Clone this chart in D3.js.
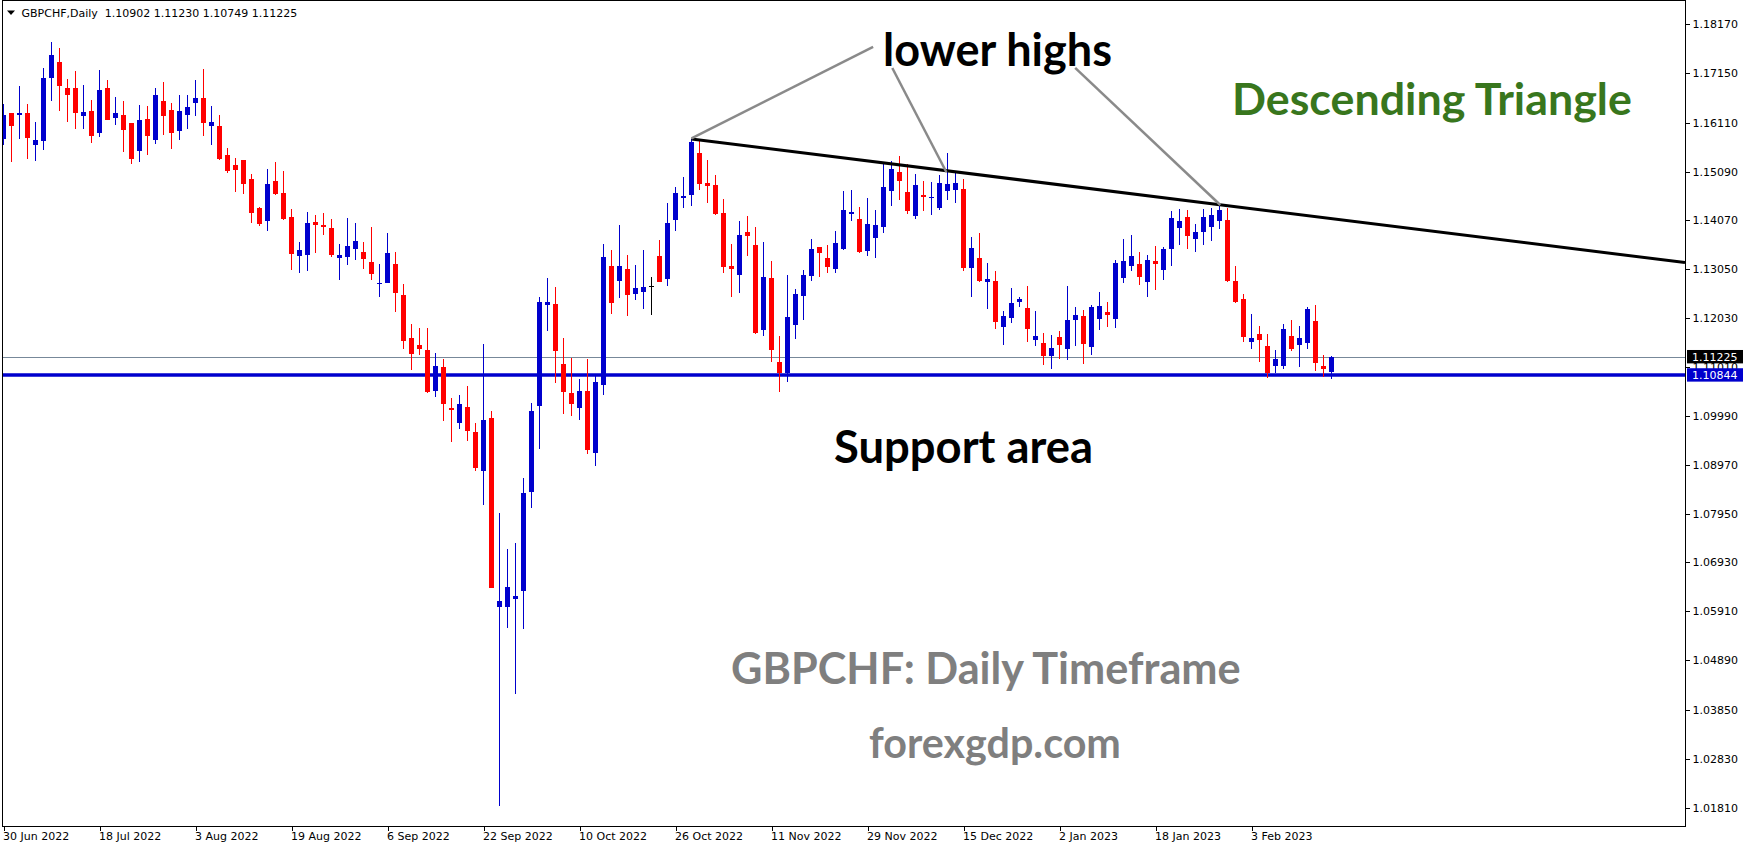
<!DOCTYPE html>
<html><head><meta charset="utf-8">
<script src="https://cdn.jsdelivr.net/npm/d3@7"></script>
<style>html,body{margin:0;padding:0;background:#fff;overflow:hidden}</style>
</head><body>
<svg id="c" width="1749" height="850"></svg>
<script>
// ---------------- DATA ----------------
const symbolLabel = "GBPCHF,Daily";
const open = [1.15774,1.16311,1.16276,1.16311,1.15650,1.15733,1.17049,1.17376,1.16834,1.16834,
1.16255,1.16353,1.15901,1.16834,1.16214,1.16270,1.16103,1.15524,1.16186,1.15754,
1.16562,1.16374,1.15942,1.16276,1.16527,1.16625,1.16047,1.16041,1.15435,1.15226,
1.15331,1.14934,1.14329,1.14063,1.14892,1.14642,1.14141,1.13333,1.13354,1.14036,
1.13974,1.13911,1.13291,1.13312,1.13479,1.13410,1.13201,1.12748,1.12769,1.13159,
1.12513,1.11615,1.11469,1.11364,1.10514,1.11009,1.10159,1.09847,1.10174,1.09652,
1.08844,1.09944,1.06005,1.06005,1.06172,1.06339,1.08406,1.10201,1.12310,1.12325,
1.11072,1.10466,1.10159,1.10514,1.09220,1.10639,1.13117,1.12811,1.13055,1.12540,
1.12581,1.12700,1.13326,1.12853,1.14084,1.14544,1.14606,1.15477,1.14851,1.14809,
1.14224,1.13117,1.12936,1.13828,1.13556,1.11788,1.12867,1.11113,1.10890,1.11892,
1.12498,1.12915,1.13515,1.13285,1.13061,1.13479,1.14197,1.14099,1.13437,1.13708,
1.13938,1.14690,1.15080,1.14663,1.14168,1.14600,1.14555,1.14335,1.14690,1.14711,
1.14725,1.13082,1.13285,1.12790,1.12804,1.11851,1.12038,1.12373,1.12241,1.11580,
1.11510,1.11245,1.11636,1.11391,1.11996,1.12074,1.11433,1.12017,1.12157,1.12017,
1.12873,1.13124,1.13159,1.12790,1.13222,1.13040,1.13479,1.13917,1.14141,1.13688,
1.13834,1.13938,1.14063,1.14084,1.12804,1.12429,1.11537,1.11698,1.11448,1.11037,
1.11037,1.11657,1.11475,1.11517,1.11969,1.11030,1.10902];
const high = [1.16500,1.16320,1.16876,1.16500,1.16124,1.17252,1.17794,1.17669,1.17022,1.17189,
1.16896,1.16583,1.17210,1.17001,1.16646,1.16562,1.16110,1.16479,1.16458,1.16834,
1.16959,1.16521,1.16688,1.16688,1.17001,1.17231,1.16458,1.16270,1.15581,1.15372,
1.15340,1.15038,1.14350,1.15149,1.15289,1.15101,1.14308,1.13619,1.14245,1.14182,
1.14224,1.14099,1.13577,1.14120,1.14016,1.13619,1.13932,1.13159,1.13807,1.13410,
1.12742,1.11907,1.11824,1.11824,1.11302,1.11176,1.10368,1.10425,1.10612,1.09840,
1.11489,1.10084,1.07961,1.07210,1.07335,1.08692,1.10257,1.12471,1.12867,1.12686,
1.11615,1.11197,1.10765,1.11182,1.10827,1.13577,1.13452,1.13974,1.13348,1.13138,
1.13452,1.12894,1.13667,1.14433,1.14767,1.14976,1.15769,1.15748,1.15331,1.15017,
1.14517,1.13577,1.14057,1.14162,1.13932,1.13619,1.13222,1.11657,1.12930,1.12638,
1.13034,1.13682,1.13520,1.13556,1.13849,1.14683,1.14704,1.14350,1.14537,1.14287,
1.15268,1.15310,1.15414,1.15247,1.15038,1.14892,1.14871,1.15017,1.15477,1.15059,
1.14934,1.13723,1.13807,1.13180,1.13013,1.12178,1.12658,1.12477,1.12700,1.12178,
1.11719,1.11678,1.11761,1.12700,1.12262,1.12199,1.12304,1.12575,1.12366,1.13243,
1.13682,1.13765,1.13410,1.13348,1.13535,1.13514,1.14266,1.14308,1.14287,1.13995,
1.14308,1.14329,1.14391,1.14335,1.13117,1.12533,1.12116,1.11865,1.11698,1.11364,
1.11907,1.11990,1.11865,1.12262,1.12304,1.11260,1.11230];
const low = [1.15650,1.15295,1.15774,1.15358,1.15316,1.15545,1.16568,1.16359,1.16131,1.15984,
1.15984,1.15692,1.15817,1.16160,1.16068,1.15503,1.15254,1.15295,1.15441,1.15671,
1.15859,1.15566,1.15754,1.15984,1.16255,1.15838,1.15650,1.15337,1.15066,1.14669,
1.14627,1.14022,1.13959,1.13855,1.14606,1.14084,1.13040,1.12978,1.13019,1.13396,
1.13771,1.13312,1.12831,1.13145,1.13249,1.13061,1.12831,1.12477,1.12760,1.12163,
1.11385,1.10952,1.11266,1.10473,1.10389,1.09888,1.09450,1.09721,1.09471,1.08844,
1.08135,1.06395,1.01838,1.05566,1.04189,1.05539,1.08072,1.09303,1.11767,1.10681,
1.10034,1.09993,1.09909,1.09193,1.08949,1.10431,1.12122,1.12456,1.12080,1.12414,
1.12226,1.12101,1.12785,1.12706,1.13855,1.14335,1.14377,1.14711,1.14439,1.14189,
1.12978,1.12477,1.12560,1.13333,1.11704,1.11663,1.11120,1.10493,1.10702,1.11600,
1.11996,1.12811,1.12894,1.12978,1.12978,1.13458,1.14063,1.13396,1.13333,1.13291,
1.13813,1.14377,1.14502,1.14210,1.14105,1.14272,1.14189,1.14293,1.14502,1.14439,
1.13019,1.12477,1.12790,1.12226,1.11809,1.11475,1.11933,1.12268,1.11537,1.11454,
1.11057,1.10974,1.11182,1.11161,1.11454,1.11078,1.11266,1.11788,1.11851,1.11830,
1.12769,1.13019,1.12727,1.12477,1.12623,1.12831,1.13124,1.13562,1.13479,1.13416,
1.13562,1.13647,1.13896,1.12777,1.12345,1.11537,1.11385,1.11120,1.10773,1.10878,
1.10974,1.11350,1.11016,1.11391,1.10932,1.10807,1.10749];
const close = [1.16270,1.16047,1.16311,1.15796,1.15748,1.17043,1.17523,1.16882,1.16694,1.16318,
1.16333,1.15838,1.16792,1.16172,1.16311,1.15963,1.15358,1.16166,1.15838,1.16688,
1.16255,1.15901,1.16353,1.16437,1.16625,1.16110,1.16124,1.15358,1.15107,1.15128,
1.14836,1.14231,1.14001,1.14830,1.14627,1.14105,1.13375,1.13452,1.14016,1.13980,
1.13938,1.13348,1.13348,1.13535,1.13640,1.13270,1.12957,1.12763,1.13389,1.12560,
1.11558,1.11287,1.11385,1.10493,1.11030,1.10243,1.10117,1.10236,1.09679,1.08907,
1.09903,1.06402,1.06124,1.06416,1.06228,1.08379,1.10090,1.12366,1.12366,1.11350,
1.10493,1.10243,1.10514,1.09283,1.10702,1.13312,1.12352,1.13117,1.12519,1.12665,
1.12686,1.12700,1.12790,1.14016,1.14642,1.14579,1.15706,1.14836,1.14795,1.14210,
1.13103,1.13061,1.13765,1.13750,1.11725,1.12888,1.11370,1.10890,1.12053,1.12533,
1.12930,1.13473,1.13395,1.13103,1.13598,1.14287,1.14245,1.13416,1.13995,1.13974,
1.14767,1.15143,1.14899,1.14272,1.14809,1.14565,1.14560,1.14851,1.14830,1.14851,
1.13082,1.13494,1.12811,1.12853,1.11955,1.12074,1.12345,1.12429,1.11809,1.11657,
1.11245,1.11406,1.11475,1.11990,1.12095,1.11496,1.12262,1.12283,1.12101,1.13180,
1.13222,1.13326,1.12894,1.13243,1.13166,1.13473,1.14120,1.14057,1.13750,1.13828,
1.14141,1.14182,1.14287,1.12798,1.12366,1.11642,1.11615,1.11580,1.10878,1.11176,
1.11803,1.11391,1.11615,1.12220,1.11099,1.10974,1.11225];
const dateTickBars = [0,12,24,36,48,60,72,84,96,108,120,132,144,156];
const dateTickLabels = ["30 Jun 2022","18 Jul 2022","3 Aug 2022","19 Aug 2022","6 Sep 2022","22 Sep 2022",
  "10 Oct 2022","26 Oct 2022","11 Nov 2022","29 Nov 2022","15 Dec 2022","2 Jan 2023","18 Jan 2023","3 Feb 2023"];
const priceTicks = [1.18170,1.17150,1.16110,1.15090,1.14070,1.13050,1.12030,1.11010,1.09990,
  1.08970,1.07950,1.06930,1.05910,1.04890,1.03850,1.02830,1.01810];
const bidPrice = 1.11225;
const supportPrice = 1.10844;
const trendPoints = [[86,1.15769],[152,1.14398]];
const pointerLines = [
  [[108.7,1.17690],[86,1.15780]],
  [[111.1,1.17252],[117.85,1.15080]],
  [[133.96,1.17252],[152.1,1.14391]]
];
const annotations = [
  {text:"lower highs", x:883, y:66, w:229, color:"#000000"},
  {text:"Descending Triangle", x:1232, y:115, w:400, color:"#38761d"},
  {text:"Support area", x:834, y:463, w:259, color:"#000000"},
  {text:"GBPCHF: Daily Timeframe", x:731, y:684, w:510, color:"#7f7f7f"},
  {text:"forexgdp.com", x:869, y:758, w:252, color:"#7f7f7f"}
];

// ---------------- CHART ----------------
const svg = d3.select("#c");
const L = 2, R = 1685, T = 0, B = 826;
const N = open.length;
const x = d3.scaleLinear().domain([0, N-1]).range([3.5, 3.5 + 8*(N-1)]);
const y = d3.scaleLinear().domain([1.01428, 1.18629]).range([B, 2]);
const BLUE = "#0000cd", RED = "#ff0000";
const FONT = "'DejaVu Sans', Verdana, sans-serif";

svg.append("rect").attr("width",1749).attr("height",850).attr("fill","#fff");
svg.append("defs").append("clipPath").attr("id","plot")
  .append("rect").attr("x",L).attr("y",T).attr("width",R-L).attr("height",B-T);
const plot = svg.append("g").attr("clip-path","url(#plot)");

// bid line & support line
plot.append("line").attr("x1",L).attr("x2",R).attr("y1",Math.round(y(bidPrice))+0.5).attr("y2",Math.round(y(bidPrice))+0.5)
  .attr("stroke","#778899").attr("stroke-width",1).attr("shape-rendering","crispEdges");
plot.append("line").attr("x1",L).attr("x2",R).attr("y1",y(supportPrice)).attr("y2",y(supportPrice))
  .attr("stroke",BLUE).attr("stroke-width",3.5);

// candles
const idx = d3.range(N);
const colorOf = i => close[i] > open[i] ? BLUE : (close[i] < open[i] ? RED : "#000");
const cg = plot.append("g").attr("shape-rendering","crispEdges");
cg.selectAll("line.w").data(idx).join("line").attr("class","w")
  .attr("x1",i=>x(i)).attr("x2",i=>x(i))
  .attr("y1",i=>y(high[i])).attr("y2",i=>y(low[i]))
  .attr("stroke",colorOf).attr("stroke-width",1);
cg.selectAll("rect.b").data(idx).join("rect").attr("class","b")
  .attr("x",i=>x(i)-2.5).attr("width",5)
  .attr("y",i=>y(Math.max(open[i],close[i])))
  .attr("height",i=>Math.max(1, Math.abs(y(open[i])-y(close[i]))))
  .attr("fill",colorOf);

// trend line (ray to right edge)
const [p0,p1] = trendPoints;
const slope = (p1[1]-p0[1])/(p1[0]-p0[0]);
const xEnd = x.invert(R);
plot.append("line").attr("x1",x(p0[0])).attr("y1",y(p0[1]))
  .attr("x2",R).attr("y2",y(p0[1]+slope*(xEnd-p0[0])))
  .attr("stroke","#000").attr("stroke-width",3);

// pointer lines
plot.selectAll("line.ptr").data(pointerLines).join("line").attr("class","ptr")
  .attr("x1",d=>x(d[0][0])).attr("y1",d=>y(d[0][1]))
  .attr("x2",d=>x(d[1][0])).attr("y2",d=>y(d[1][1]))
  .attr("stroke","#8a8a8a").attr("stroke-width",2.5);

// annotation texts (fit to measured widths)
annotations.forEach(a=>{
  const t = svg.append("text").attr("x",a.x).attr("y",a.y).text(a.text)
    .attr("fill",a.color).attr("font-family","Lato, 'Open Sans', sans-serif")
    .attr("font-weight",700).attr("font-size",40);
  const w = t.node().getComputedTextLength();
  t.attr("font-size", 40*a.w/w);
});

// axes
const yAxis = d3.axisRight(y).tickValues(priceTicks).tickSize(4).tickSizeOuter(0).tickPadding(3)
  .tickFormat(d3.format(".5f"));
const gy = svg.append("g").attr("transform",`translate(${R+0.5},0)`).call(yAxis);
gy.select(".domain").remove();
gy.selectAll("text").attr("font-family",FONT).attr("font-size",11).attr("fill","#000");
gy.selectAll("line").attr("stroke","#000").attr("shape-rendering","crispEdges");

const xAxis = d3.axisBottom(x).tickValues(dateTickBars).tickSize(4).tickSizeOuter(0).tickPadding(2)
  .tickFormat((d,i)=>dateTickLabels[i]);
const gx = svg.append("g").attr("transform",`translate(0,${B+0.5})`).call(xAxis);
gx.select(".domain").remove();
gx.selectAll("text").attr("font-family",FONT).attr("font-size",11).attr("fill","#000")
  .attr("text-anchor","start").attr("x",-1);
gx.selectAll("line").attr("stroke","#000").attr("shape-rendering","crispEdges");

// frame
svg.append("path").attr("d",`M${L+0.5},${T+0.5}H${R+0.5}V${B+0.5}H${L+0.5}Z`)
  .attr("fill","none").attr("stroke","#000").attr("stroke-width",1).attr("shape-rendering","crispEdges");

// price label boxes
[[bidPrice,"#000"],[supportPrice,BLUE]].forEach(([p,c])=>{
  const yy = y(p);
  svg.append("rect").attr("x",R+2).attr("y",yy-6.7).attr("width",56).attr("height",13.4).attr("fill",c);
  svg.append("text").attr("x",R+7).attr("y",yy).attr("dy","0.36em").text(d3.format(".5f")(p))
    .attr("font-family",FONT).attr("font-size",11).attr("fill","#fff");
});

// header
svg.append("path").attr("d","M7,10.5H15L11,15Z").attr("fill","#000");
svg.append("text").attr("x",21.5).attr("y",17).attr("font-family",FONT).attr("font-size",11).attr("fill","#000")
  .attr("xml:space","preserve").style("white-space","pre")
  .text(`${symbolLabel}  ${d3.format(".5f")(open[N-1])} ${d3.format(".5f")(high[N-1])} ${d3.format(".5f")(low[N-1])} ${d3.format(".5f")(close[N-1])}`);
</script>
</body></html>
